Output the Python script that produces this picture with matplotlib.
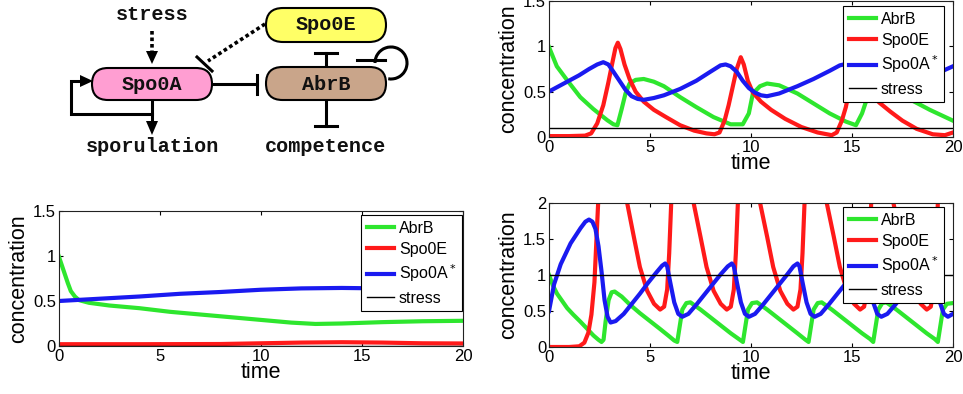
import matplotlib
matplotlib.use("Agg")
import matplotlib.pyplot as plt
from matplotlib.patches import FancyBboxPatch, Polygon, Arc
from matplotlib.ticker import FormatStrFormatter

plt.rcParams.update({
    "font.family": ["Liberation Sans", "DejaVu Sans"],
    "font.size": 11,
    "xtick.direction": "in", "ytick.direction": "in",
    "xtick.top": True, "ytick.right": True,
    "xtick.major.size": 3, "ytick.major.size": 3,
    "axes.linewidth": 0.8, "axes.edgecolor": "#222222",
})

GREEN, RED, BLUE = "#2EE62E", "#FF1A1A", "#1A1AF0"
LABELS = ["AbrB", "Spo0E", "Spo0A$^*$", "stress"]

# ---- panel A: oscillating, low stress ----
tA_abrb = [0, 0.4, 0.9, 1.56, 2.2, 2.9, 3.2, 3.4, 3.6, 3.8, 4.0, 4.3, 4.7, 5.2, 5.7,
           6.5, 7.3, 8.15, 9.0, 9.6, 9.9, 10.1, 10.45, 10.8, 11.4, 12.3, 13.1, 13.9,
           14.7, 15.2, 15.5, 15.8, 16.0, 16.3, 17.0, 18.0, 18.85, 20.0]
A_abrb = [1.0, 0.78, 0.63, 0.44, 0.31, 0.185, 0.14, 0.13, 0.30, 0.48, 0.59, 0.63, 0.64,
          0.61, 0.56, 0.44, 0.33, 0.22, 0.14, 0.14, 0.26, 0.48, 0.56, 0.59, 0.57, 0.48,
          0.37, 0.26, 0.17, 0.13, 0.26, 0.46, 0.56, 0.60, 0.52, 0.40, 0.30, 0.18]
tA_spo0e = [0, 1, 1.8, 2.1, 2.4, 2.7, 2.95, 3.15, 3.3, 3.42, 3.55, 3.75, 4.0, 4.3, 4.7,
            5.2, 5.8, 6.5, 7.2, 7.8, 8.2, 8.45, 8.7, 8.9, 9.1, 9.3, 9.5, 9.65, 9.85,
            10.1, 10.5, 11.0, 11.7, 12.5, 13.3, 14.0, 14.25, 14.5, 14.7, 14.9, 15.1,
            15.35, 15.5, 15.7, 15.95, 16.35, 16.9, 17.5, 18.2, 19.0, 19.6, 20.0]
A_spo0e = [0.01, 0.01, 0.015, 0.04, 0.15, 0.35, 0.6, 0.82, 0.98, 1.04, 0.97, 0.80, 0.64,
           0.50, 0.39, 0.30, 0.22, 0.13, 0.07, 0.04, 0.03, 0.05, 0.18, 0.35, 0.55, 0.75,
           0.88, 0.80, 0.62, 0.49, 0.39, 0.30, 0.20, 0.11, 0.05, 0.02, 0.05, 0.18, 0.33,
           0.55, 0.75, 0.88, 0.80, 0.62, 0.48, 0.38, 0.28, 0.18, 0.09, 0.03, 0.02, 0.05]
tA_spo0a = [0, 0.5, 1.0, 1.5, 2.0, 2.4, 2.7, 2.95, 3.2, 3.5, 3.8, 4.1, 4.4, 4.7, 5.2, 5.7,
            6.5, 7.3, 8.0, 8.5, 8.75, 9.0, 9.3, 9.6, 9.9, 10.2, 10.5, 10.8, 11.4, 12.3,
            13.1, 13.9, 14.4, 14.6, 14.9, 15.2, 15.5, 15.8, 16.1, 16.5, 17.1, 18.0,
            18.8, 19.5, 20.0]
A_spo0a = [0.50, 0.56, 0.62, 0.68, 0.75, 0.80, 0.825, 0.80, 0.72, 0.62, 0.52, 0.45, 0.42,
           0.41, 0.43, 0.46, 0.53, 0.62, 0.72, 0.79, 0.80, 0.78, 0.72, 0.62, 0.54, 0.49,
           0.46, 0.45, 0.48, 0.56, 0.64, 0.73, 0.79, 0.80, 0.78, 0.72, 0.62, 0.54, 0.49,
           0.46, 0.48, 0.57, 0.65, 0.73, 0.78]
A_stress = 0.1

# ---- panel B: no stress, steady state ----
tB_abrb = [0, 0.15, 0.3, 0.45, 0.6, 0.8, 1.0, 1.5, 2.5, 4.0, 5.5, 7.0, 8.5, 10.0, 11.5,
           12.7, 14.0, 16.0, 18.0, 20.0]
B_abrb = [1.0, 0.90, 0.80, 0.70, 0.61, 0.55, 0.51, 0.48, 0.45, 0.42, 0.38, 0.35, 0.32,
          0.29, 0.26, 0.245, 0.25, 0.265, 0.275, 0.28]
tB_spo0e = [0, 4, 8, 10, 12, 14, 16, 18, 20]
B_spo0e = [0.02, 0.02, 0.022, 0.03, 0.038, 0.042, 0.038, 0.03, 0.028]
tB_spo0a = [0, 2, 4, 6, 8, 10, 12, 14, 16, 18, 20]
B_spo0a = [0.50, 0.525, 0.55, 0.58, 0.60, 0.625, 0.64, 0.645, 0.64, 0.635, 0.63]
B_stress = 0.0

# ---- panel C: high stress, fast oscillations ----
tC_abrb = [0, 0.2, 0.4, 0.7, 0.9, 1.2, 1.56, 1.9, 2.2, 2.45, 2.6, 2.7, 2.8, 2.95, 3.1,
           3.25, 3.6, 4.0, 4.5, 5.0, 5.5, 5.9, 6.2, 6.35, 6.45, 6.6, 6.8, 7.0, 7.5, 8.0,
           8.5, 9.0, 9.4, 9.6, 9.7, 9.85, 10.05, 10.3, 10.8, 11.3, 11.8, 12.3, 12.7,
           12.85, 12.95, 13.1, 13.3, 13.5, 14.0, 14.5, 15.0, 15.5, 15.9, 16.05, 16.15,
           16.3, 16.5, 16.7, 17.2, 17.7, 18.2, 18.7, 19.1, 19.25, 19.35, 19.5, 19.7, 20.0]
C_abrb = [1.0, 0.85, 0.74, 0.62, 0.54, 0.45, 0.35, 0.25, 0.16, 0.10, 0.07, 0.10, 0.35,
          0.65, 0.76, 0.77, 0.70, 0.59, 0.47, 0.36, 0.25, 0.16, 0.09, 0.07, 0.25, 0.52,
          0.61, 0.62, 0.52, 0.41, 0.30, 0.19, 0.11, 0.07, 0.25, 0.52, 0.61, 0.62, 0.52,
          0.41, 0.30, 0.19, 0.10, 0.07, 0.25, 0.52, 0.61, 0.62, 0.52, 0.41, 0.30, 0.19,
          0.11, 0.07, 0.25, 0.52, 0.61, 0.62, 0.52, 0.41, 0.30, 0.19, 0.11, 0.07, 0.25,
          0.52, 0.60, 0.61]
tC_spo0e = [0, 1.0, 1.5, 1.75, 1.95, 2.1, 2.25, 2.35, 2.45, 2.6, 3.0, 3.5, 3.87, 4.2,
            4.5, 4.86, 5.2, 5.5, 5.7, 5.85, 5.95, 6.05, 6.2, 6.6, 7.16, 7.5, 7.8, 8.15,
            8.5, 8.8, 9.0, 9.15, 9.25, 9.35, 9.5, 9.9, 10.45, 10.8, 11.1, 11.45, 11.8,
            12.1, 12.3, 12.45, 12.55, 12.65, 12.8, 13.2, 13.75, 14.1, 14.4, 14.75, 15.1,
            15.4, 15.6, 15.75, 15.85, 15.95, 16.1, 16.5, 17.05, 17.4, 17.7, 18.05, 18.4,
            18.7, 18.9, 19.05, 19.15, 19.25, 19.4, 19.8, 20.0]
C_spo0e = [0.0, 0.0, 0.01, 0.06, 0.2, 0.45, 0.9, 1.5, 2.1, 3.0, 3.6, 2.8, 2.0, 1.53,
           1.11, 0.78, 0.60, 0.52, 0.56, 0.8, 1.3, 2.0, 2.8, 3.0, 2.0, 1.53, 1.11, 0.78,
           0.60, 0.52, 0.56, 0.8, 1.3, 2.0, 2.8, 3.0, 2.0, 1.53, 1.11, 0.78, 0.60, 0.52,
           0.56, 0.8, 1.3, 2.0, 2.8, 3.0, 2.0, 1.53, 1.11, 0.78, 0.60, 0.52, 0.56, 0.8,
           1.3, 2.0, 2.8, 3.0, 2.0, 1.53, 1.11, 0.78, 0.60, 0.52, 0.56, 0.8, 1.3, 2.0,
           2.8, 3.0, 2.6]
tC_spo0a = [0, 0.25, 0.58, 1.07, 1.56, 1.8, 1.98, 2.15, 2.3, 2.45, 2.6, 2.75, 2.9, 3.05,
            3.3, 3.7, 4.1, 4.5, 4.9, 5.3, 5.6, 5.75, 5.85, 6.0, 6.2, 6.4, 6.6, 6.9, 7.3,
            7.7, 8.1, 8.5, 8.85, 9.05, 9.15, 9.3, 9.5, 9.7, 9.9, 10.2, 10.6, 11.0, 11.4,
            11.8, 12.1, 12.3, 12.4, 12.55, 12.75, 12.95, 13.15, 13.45, 13.85, 14.25,
            14.65, 15.05, 15.4, 15.6, 15.7, 15.85, 16.05, 16.25, 16.45, 16.75, 17.15,
            17.55, 17.95, 18.35, 18.7, 18.9, 19.0, 19.15, 19.35, 19.55, 19.75, 20.0]
C_spo0a = [0.50, 0.87, 1.15, 1.44, 1.65, 1.74, 1.77, 1.74, 1.64, 1.40, 1.05, 0.65, 0.42,
           0.34, 0.36, 0.46, 0.60, 0.74, 0.89, 1.03, 1.13, 1.16, 1.12, 0.90, 0.62, 0.46,
           0.42, 0.46, 0.59, 0.73, 0.87, 1.01, 1.12, 1.16, 1.12, 0.90, 0.62, 0.46, 0.42,
           0.46, 0.59, 0.73, 0.87, 1.01, 1.12, 1.16, 1.12, 0.90, 0.62, 0.46, 0.42, 0.46,
           0.59, 0.73, 0.87, 1.01, 1.12, 1.16, 1.12, 0.90, 0.62, 0.46, 0.42, 0.46, 0.59,
           0.73, 0.87, 1.01, 1.12, 1.16, 1.12, 0.90, 0.62, 0.46, 0.42, 0.46]
C_stress = 1.0

W, H = 963, 394
fig = plt.figure(figsize=(W / 100, H / 100), dpi=100)


def px_axes(x0, y0, x1, y1):
    # pixel box (top-left origin) -> figure axes
    return fig.add_axes([x0 / W, 1 - y1 / H, (x1 - x0) / W, (y1 - y0) / H])


def panel(ax, series, stress, ymax, leg_anchor):
    for (t, v), c in zip(series, [GREEN, RED, BLUE]):
        ax.plot(t, v, color=c, lw=3.0, solid_joinstyle="round")
    ax.axhline(stress, color="black", lw=1.0)
    ax.set_xlim(0, 20)
    ax.set_ylim(0, ymax)
    ax.set_xticks([0, 5, 10, 15, 20])
    ax.set_yticks([i * 0.5 for i in range(int(ymax / 0.5) + 1)])
    ax.yaxis.set_major_formatter(FormatStrFormatter("%g"))
    ax.tick_params(labelsize=12, pad=2, width=0.8)
    ax.set_xlabel("time", fontsize=15.5, labelpad=-1)
    ax.set_ylabel("concentration", fontsize=15.5, labelpad=3)
    leg = ax.legend(ax.get_lines(), LABELS, loc="upper right",
                    bbox_to_anchor=leg_anchor, borderaxespad=0, fontsize=11.5,
                    handlelength=1.7, handletextpad=0.3, borderpad=0.35,
                    labelspacing=0.38, fancybox=False, framealpha=1)
    leg.get_frame().set_edgecolor("black")
    leg.get_frame().set_linewidth(0.8)


axA = px_axes(548.7, 1, 953, 137)
panel(axA, [(tA_abrb, A_abrb), (tA_spo0e, A_spo0e), (tA_spo0a, A_spo0a)],
      A_stress, 1.5, (0.978, 0.963))
axB = px_axes(58.7, 211, 463, 346)
panel(axB, [(tB_abrb, B_abrb), (tB_spo0e, B_spo0e), (tB_spo0a, B_spo0a)],
      B_stress, 1.5, (0.998, 0.97))
axC = px_axes(549, 203, 953, 347)
panel(axC, [(tC_abrb, C_abrb), (tC_spo0e, C_spo0e), (tC_spo0a, C_spo0a)],
      C_stress, 2.0, (0.978, 0.972))

# ---- network diagram (pixel coordinates) ----
d = px_axes(0, 0, 480, 190)
d.set_xlim(0, 480)
d.set_ylim(190, 0)
d.axis("off")
mono = dict(family=["Liberation Mono", "DejaVu Sans Mono"], weight="bold",
            fontsize=14.5, ha="center", va="center", color="#111111")
LW = 2.2

for (x0, y0, w, h, fc) in [(92, 68, 120, 32, "#FF9ED2"),
                           (266, 8, 120, 34, "#FFFF66"),
                           (266, 67, 120, 33, "#C9A58A")]:
    d.add_patch(FancyBboxPatch((x0, y0), w, h,
                               boxstyle="round,pad=0,rounding_size=%g" % (h / 2),
                               fc=fc, ec="black", lw=1.5, zorder=3))
d.text(152, 84, "Spo0A", zorder=4, **mono)
d.text(326, 25, "Spo0E", zorder=4, **mono)
d.text(326, 84, "AbrB", zorder=4, **mono)
d.text(152, 15, "stress", **mono)
d.text(152, 147, "sporulation", **mono)
d.text(326, 147, "competence", **mono)

# stress -> Spo0A (dotted arrow)
d.plot([152, 152], [31, 52], color="black", lw=2.6, ls=(0, (1, 0.8)))
d.add_patch(Polygon([[146, 51], [158, 51], [152, 64]], closed=True, fc="black", ec="none"))
# Spo0A -> sporulation and positive feedback
d.plot([152, 152], [100, 123], color="black", lw=LW)
d.add_patch(Polygon([[146, 121], [158, 121], [152, 135]], closed=True, fc="black", ec="none"))
d.plot([152, 71, 71, 82], [114, 114, 81, 81], color="black", lw=LW,
       solid_joinstyle="miter")
d.add_patch(Polygon([[80, 75], [80, 87], [93, 81]], closed=True, fc="black", ec="none"))
# Spo0A -| AbrB
d.plot([212, 257], [84, 84], color="black", lw=LW)
d.plot([257, 257], [75, 94], color="black", lw=LW)
# Spo0E -| Spo0A (dotted)
d.plot([265, 208], [24, 61], color="black", lw=2.6, ls=(0, (1, 0.8)))
d.plot([197, 212], [57, 71], color="black", lw=LW)
# AbrB -| Spo0E, AbrB -| competence
d.plot([326, 326], [67, 53], color="black", lw=LW)
d.plot([315, 337], [53, 53], color="black", lw=LW)
d.plot([326, 326], [100, 126], color="black", lw=LW)
d.plot([315, 337], [126, 126], color="black", lw=LW)
# AbrB self-repression loop
d.add_patch(Arc((391, 63), 32, 32, theta1=180, theta2=100, color="black", lw=LW))
d.plot([357, 385], [60, 60], color="black", lw=LW)

fig.savefig("out.png", dpi=100)
